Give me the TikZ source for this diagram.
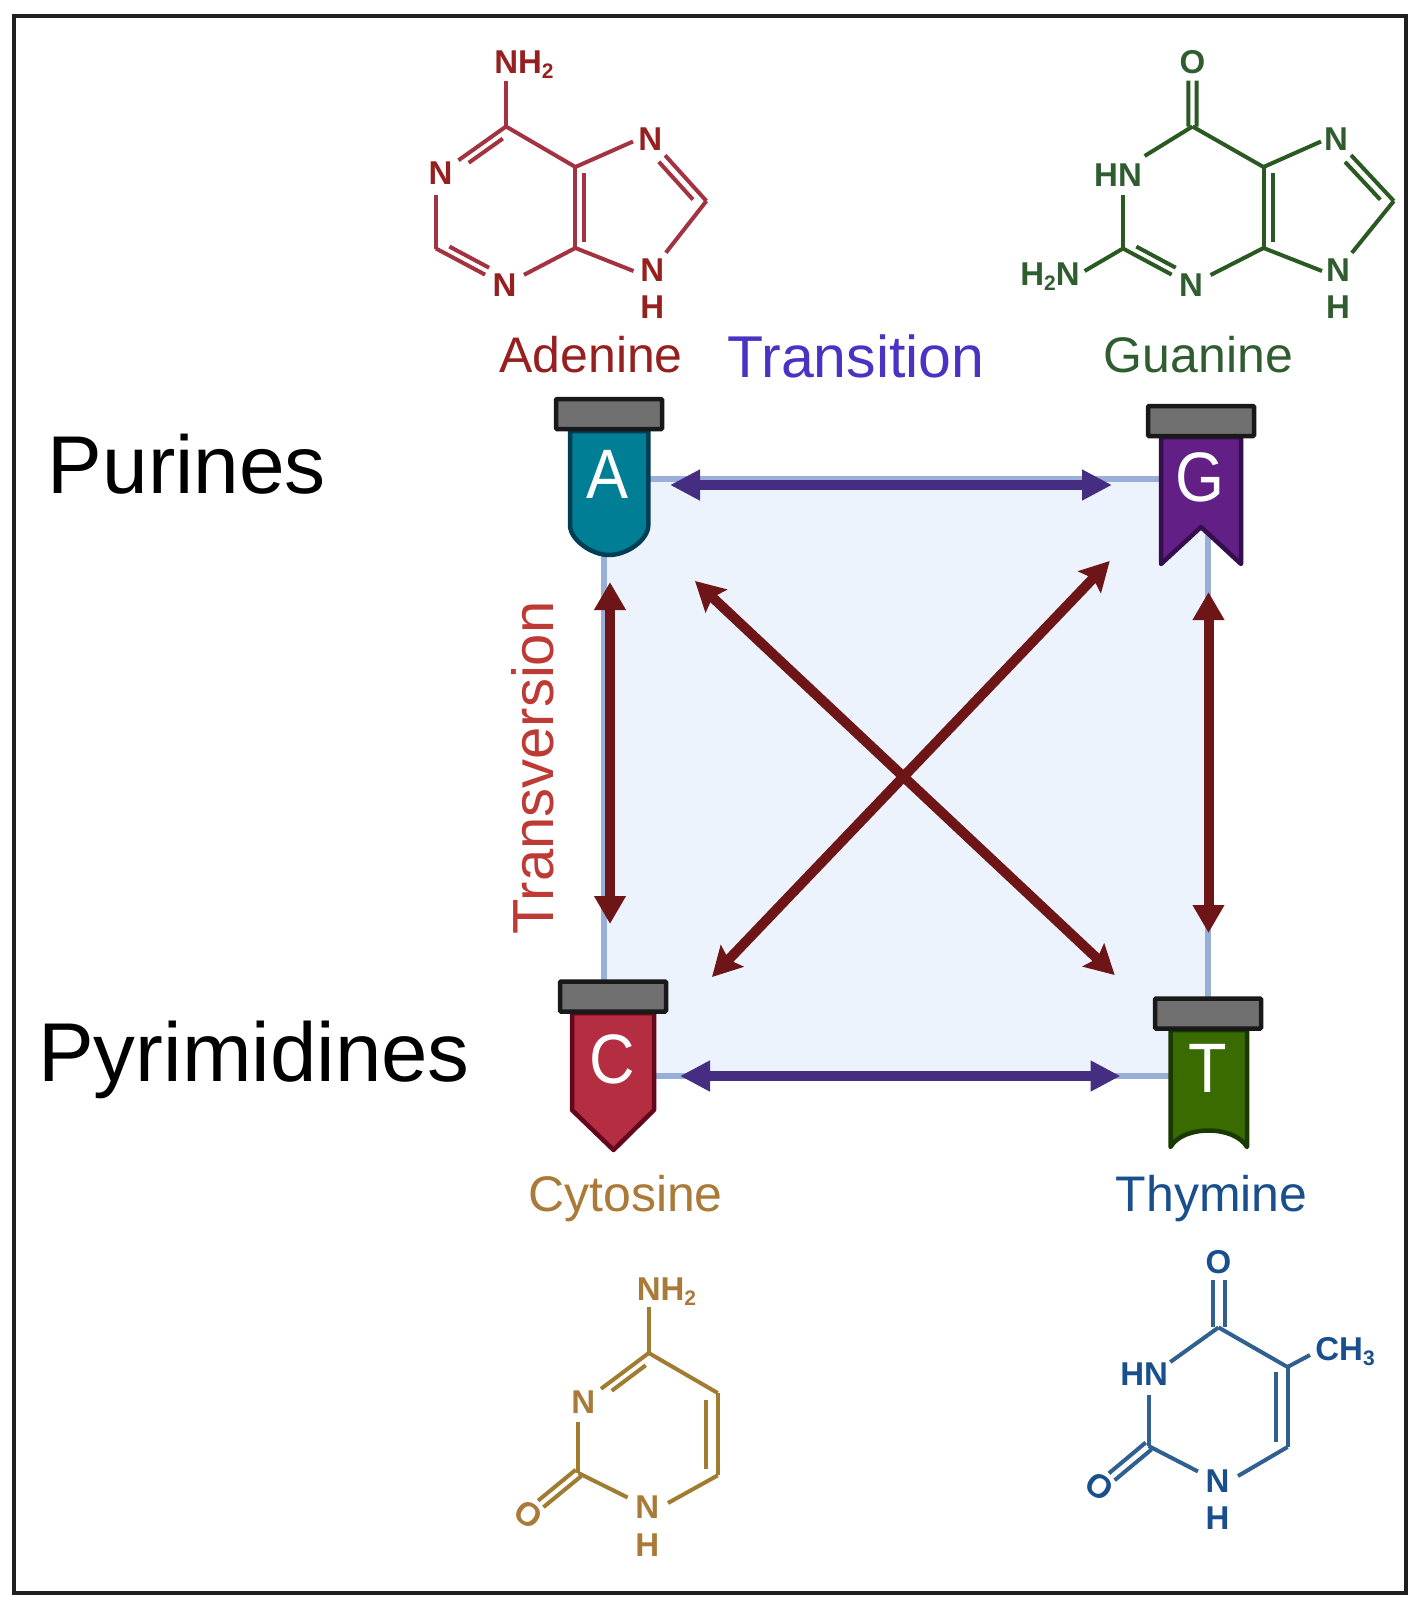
\documentclass[tikz,border=0pt]{standalone}
\usepackage{fontspec}
\setmainfont{Liberation Sans}
\usepackage{xcolor}
\usetikzlibrary{arrows.meta,calc,positioning}

\definecolor{adline}{HTML}{A33340}
\definecolor{adtext}{HTML}{96201F}
\definecolor{guline}{HTML}{2A5A22}
\definecolor{gutext}{HTML}{2F5D30}
\definecolor{cyline}{HTML}{A07C30}
\definecolor{cytext}{HTML}{A97A38}
\definecolor{thline}{HTML}{2F6090}
\definecolor{thtext}{HTML}{184F8C}
\definecolor{sqfill}{HTML}{ECF3FC}
\definecolor{sqline}{HTML}{9AAFD8}
\definecolor{transi}{HTML}{452D82}
\definecolor{transv}{HTML}{6E1518}

% inner line of a double bond
\newcommand{\dbond}[5]{\draw ($(#1)!#3!(#2)!#5!90:(#2)$) -- ($(#2)!#4!(#1)!#5!-90:(#1)$);}
\newcommand{\subnum}[1]{\raisebox{-5pt}{\fontsize{21}{21}\selectfont #1}}
\newcommand{\narrow}[1]{\scalebox{.9}[1]{#1}}

\tikzset{
  atom/.style={circle, inner sep=0pt, minimum size=40pt, font=\fontsize{33}{38}\selectfont\bfseries},
  grp/.style={inner sep=0pt, font=\fontsize{33}{38}\selectfont\bfseries},
  bigname/.style={anchor=base, inner sep=0pt, font=\fontsize{50}{58}\selectfont},
  sidename/.style={anchor=base, inner sep=0pt, font=\fontsize{82}{96}\selectfont},
  molbond/.style={line width=4pt, line join=round},
  capbox/.style={draw=black!90, fill=black!56, line width=4.5pt, minimum width=106pt, minimum height=30pt, inner sep=0pt, rounded corners=1pt},
  tagbody/.style={line width=4.5pt, line join=round},
  letter/.style={inner sep=0pt, text=white, font=\fontsize{70}{78}\selectfont},
  purarrow/.style={{Triangle[length=30pt,width=29pt]}-{Triangle[length=30pt,width=29pt]}, line width=10pt, draw=transi, fill=transi},
  redarrow/.style={{Triangle[length=28pt,width=30pt]}-{Triangle[length=28pt,width=30pt]}, line width=10pt, draw=transv, fill=transv},
  diagarrow/.style={{Stealth[length=29pt,width=31pt,inset=5pt]}-{Stealth[length=29pt,width=31pt,inset=5pt]}, line width=10pt, draw=transv, fill=transv}
}

\begin{document}
\begin{tikzpicture}[x=1pt,y=-1pt]
\useasboundingbox (0,0) rectangle (1424,1604);
\node (frame) [draw=black!88, line width=4pt, minimum width=1392pt, minimum height=1577pt, inner sep=0pt] at (710,804.5) {};

\node (Purines) [sidename] at (187,493) {Purines};
\node (Pyrimidines) [sidename, font=\fontsize{83.5}{96}\selectfont] at (254,1081) {Pyrimidines};

% square
\node (sq) [draw=sqline, fill=sqfill, line width=6pt, minimum width=603.5pt, minimum height=597pt, inner sep=0pt] at (905.75,777.5) {};

% arrows
\coordinate (trAl) at (670,485);
\coordinate (trGr) at (1112,485);
\coordinate (trCl) at (680,1076);
\coordinate (trTr) at (1120.5,1076);
\coordinate (tvAb) at (610,582);
\coordinate (tvCt) at (610,924);
\coordinate (tvGb) at (1208.5,592);
\coordinate (tvTt) at (1208.5,933);
\coordinate (dgA) at (695,581);
\coordinate (dgT) at (1114.7,975);
\coordinate (dgG) at (1109.7,561);
\coordinate (dgC) at (712,977);
\draw [purarrow] (trAl) -- (trGr);
\draw [purarrow] (trCl) -- (trTr);
\draw [redarrow] (tvAb) -- (tvCt);
\draw [redarrow] (tvGb) -- (tvTt);
\draw [diagarrow] (dgA) -- (dgT);
\draw [diagarrow] (dgG) -- (dgC);

% tags
\draw [tagbody, fill={rgb,255:red,0;green,126;blue,149}, draw={rgb,255:red,0;green,62;blue,86}]
  (570,431) -- (570,525) .. controls (570,540) and (592,555) .. (609,555) .. controls (627,555) and (648.3,540) .. (648.3,525) -- (648.3,431) -- cycle;
\node (capA) [capbox] at (609,414) {};
\node (tagA) [letter] at (608,474) {\narrow{A}};

\draw [tagbody, fill={rgb,255:red,98;green,31;blue,133}, draw={rgb,255:red,52;green,14;blue,78}]
  (1161,437) -- (1161,564) -- (1201,527) -- (1241,564) -- (1241,437) -- cycle;
\node (capG) [capbox] at (1201,421) {};
\node (tagG) [letter] at (1200,477) {\narrow{G}};

\draw [tagbody, fill={rgb,255:red,180;green,45;blue,64}, draw={rgb,255:red,100;green,6;blue,28}]
  (572,1013) -- (572,1110) -- (613.5,1150) -- (654,1110) -- (654,1013) -- cycle;
\node (capC) [capbox] at (613,996.5) {};
\node (tagC) [letter] at (612,1059) {\narrow{C}};

\draw [tagbody, fill={rgb,255:red,58;green,107;blue,0}, draw={rgb,255:red,24;green,58;blue,0}]
  (1170.5,1030) -- (1170.5,1147) .. controls (1183,1125) and (1234,1125) .. (1247,1147) -- (1247,1030) -- cycle;
\node (capT) [capbox] at (1208,1013.5) {};
\node (tagT) [letter] at (1208,1068) {\narrow{T}};

% names
\node (Adenine) [bigname, text=adtext] at (591,372.5) {Adenine};
\node (Guanine) [bigname, text=gutext] at (1198.5,372.5) {Guanine};
\node (Cytosine) [bigname, text=cytext] at (625.5,1211) {Cytosine};
\node (Thymine) [bigname, text=thtext] at (1211.7,1211) {Thymine};
\node (Transition) [bigname, text={rgb,255:red,75;green,50;blue,195}, font=\fontsize{59}{68}\selectfont] at (856,377) {Transition};
\node (Transversion) [bigname, text={rgb,255:red,190;green,58;blue,52}, rotate=90, font=\fontsize{58}{66}\selectfont] at (553,768) {Transversion};

% adenine
\begin{scope}[molbond, color=adline]
\node (adNH) [grp, text=adtext] at (524,65) {NH\subnum{2}};
\node (adN1) [atom, text=adtext] at (440.5,173) {N};
\node (adN3) [atom, text=adtext] at (504.5,285) {N};
\node (adN7) [atom, text=adtext] at (650.3,139) {N};
\node (adN9) [atom, text=adtext] at (652.3,270) {N};
\node (adH) [grp, text=adtext] at (652.3,307) {H};
\coordinate (adNb) at (506,80.5);
\coordinate (adC6) at (506,126.5);
\coordinate (adN1b) at (436,195);
\coordinate (adC2) at (436,248.5);
\coordinate (adC5) at (575.4,167);
\coordinate (adC4) at (575.4,248);
\coordinate (adC8) at (706.4,201);
\coordinate (adN7b) at (633,141.5);
\coordinate (adN9b) at (633.5,271);
\draw (adNb) -- (adC6);
\draw (adC6) -- (adN1);
\draw (adN1b) -- (adC2);
\draw (adC2) -- (adN3);
\draw (adN3) -- (adC4);
\draw (adC4) -- (adC5);
\draw (adC5) -- (adC6);
\draw (adC5) -- (adN7b);
\draw (adN7) -- (adC8);
\draw (adC8) -- (adN9);
\draw (adN9b) -- (adC4);
\dbond{adC6}{adN1}{.12}{.36}{8pt}
\dbond{adC2}{adN3}{.14}{.28}{8pt}
\dbond{adC5}{adC4}{.08}{.08}{9pt}
\dbond{adC8}{adN7}{.12}{.27}{9pt}
\end{scope}

% guanine
\begin{scope}[molbond, color=guline]
\node (guO) [atom, text=gutext] at (1192.5,62) {O};
\node (guHN) [grp, text=gutext] at (1118,175.5) {HN};
\node (guNH) [grp, text=gutext] at (1050,276.5) {H\subnum{2}N};
\node (guN3) [atom, text=gutext] at (1191,285) {N};
\node (guN7) [atom, text=gutext] at (1336,139) {N};
\node (guN9) [atom, text=gutext] at (1338,270) {N};
\node (guH) [grp, text=gutext] at (1338,307) {H};
\coordinate (guC6) at (1192.5,126.5);
\coordinate (guHa) at (1144.6,156);
\coordinate (guHb) at (1123,195);
\coordinate (guC2) at (1123,248.5);
\coordinate (guNb) at (1084.6,271);
\coordinate (guC5) at (1263.5,167);
\coordinate (guC4) at (1263.5,248);
\coordinate (guC8) at (1393.8,201);
\coordinate (guN7b) at (1321,141.5);
\coordinate (guN9b) at (1322,271);
\draw (guC6) -- (guHa);
\draw (guHb) -- (guC2);
\draw (guC2) -- (guNb);
\draw (guC2) -- (guN3);
\draw (guN3) -- (guC4);
\draw (guC4) -- (guC5);
\draw (guC5) -- (guC6);
\draw (guC5) -- (guN7b);
\draw (guN7) -- (guC8);
\draw (guC8) -- (guN9);
\draw (guN9b) -- (guC4);
\dbond{guO}{guC6}{.29}{0}{4.2pt}
\dbond{guO}{guC6}{.29}{0}{-4.2pt}
\dbond{guC2}{guN3}{.14}{.28}{8pt}
\dbond{guC5}{guC4}{.08}{.08}{9pt}
\dbond{guC8}{guN7}{.12}{.27}{9pt}
\end{scope}

% cytosine
\begin{scope}[molbond, color=cyline]
\node (cyNH) [grp, text=cytext] at (666.5,1292) {NH\subnum{2}};
\node (cyN3) [atom, text=cytext] at (583.4,1402) {N};
\node (cyN1) [atom, text=cytext] at (647.4,1507.3) {N};
\node (cyH) [grp, text=cytext] at (647.4,1545.2) {H};
\node (cyO) [grp, text=cytext, rotate=-35] at (528.2,1514.2) {O};
\coordinate (cyNb) at (648.8,1306.7);
\coordinate (cyC4) at (648.8,1353);
\coordinate (cyC5) at (717.7,1393);
\coordinate (cyC6) at (717.7,1475.4);
\coordinate (cyN3b) at (578.4,1422);
\coordinate (cyC2) at (578.4,1473);
\coordinate (cyN1b) at (668,1503);
\draw (cyNb) -- (cyC4);
\draw (cyC4) -- (cyN3);
\draw (cyN3b) -- (cyC2);
\draw (cyC2) -- (cyN1);
\draw (cyN1b) -- (cyC6);
\draw (cyC6) -- (cyC5);
\draw (cyC5) -- (cyC4);
\dbond{cyC4}{cyN3}{.12}{.36}{8pt}
\dbond{cyC6}{cyC5}{.08}{.08}{12pt}
\dbond{cyO}{cyC2}{.25}{0}{4.2pt}
\dbond{cyO}{cyC2}{.25}{0}{-4.2pt}
\end{scope}

% thymine
\begin{scope}[molbond, color=thline]
\node (thO) [atom, text=thtext] at (1218.5,1261.7) {O};
\node (thHN) [grp, text=thtext] at (1144.2,1374.5) {HN};
\node (thN1) [atom, text=thtext] at (1217.5,1481.5) {N};
\node (thH) [grp, text=thtext] at (1217.5,1518.5) {H};
\node (thOb) [grp, text=thtext, rotate=-35] at (1099.5,1487) {O};
\node (thCH) [grp, text=thtext] at (1345,1352) {CH\subnum{3}};
\coordinate (thC4) at (1218.5,1327.4);
\coordinate (thHa) at (1170.3,1362);
\coordinate (thHb) at (1148.6,1394.6);
\coordinate (thC2) at (1148.6,1446);
\coordinate (thC5) at (1287.5,1367);
\coordinate (thC6) at (1287.5,1447);
\coordinate (thCb) at (1310,1355);
\coordinate (thN1b) at (1238,1476);
\draw (thC4) -- (thHa);
\draw (thHb) -- (thC2);
\draw (thC2) -- (thN1);
\draw (thN1b) -- (thC6);
\draw (thC6) -- (thC5);
\draw (thC5) -- (thC4);
\draw (thC5) -- (thCb);
\dbond{thO}{thC4}{.28}{0}{6pt}
\dbond{thO}{thC4}{.28}{0}{-6pt}
\dbond{thOb}{thC2}{.25}{0}{4.5pt}
\dbond{thOb}{thC2}{.25}{0}{-4.5pt}
\dbond{thC6}{thC5}{.06}{.06}{11.5pt}
\end{scope}
\end{tikzpicture}
\end{document}
